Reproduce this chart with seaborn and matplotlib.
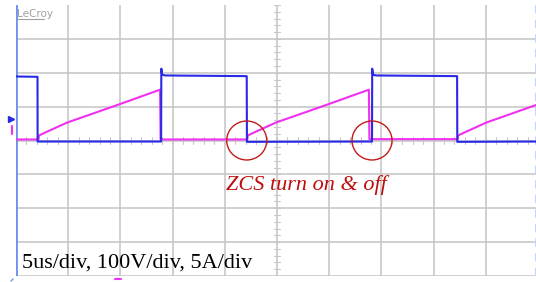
import numpy as np
import pandas as pd
import matplotlib
matplotlib.use("Agg")
import matplotlib.pyplot as plt
import seaborn as sns
from matplotlib.patches import Ellipse
from matplotlib.lines import Line2D

# ---- data ----
# voltage trace (blue), time in us, volts
t_v = [0, 2.06, 2.07, 13.9, 13.92, 14.0, 14.3, 22.1, 22.12, 34.1, 34.12, 34.2, 34.5, 42.25, 42.27, 50.2]
v_v = [189, 188, -3, -3, 212, 194, 192, 190, -4, -3, 212, 194, 192, 190, -4, -3]
# current trace (magenta), time in us, amps
t_i = [0, 2.15, 2.2, 2.8, 4.9, 10.0, 13.8, 13.85, 22.15, 22.2, 22.8, 24.9, 30.0, 33.8, 33.85,
       42.3, 42.35, 42.95, 45.05, 50.2]
i_i = [0.15, 0.15, 0.74, 1.18, 2.65, 5.4, 7.5, 0.15, 0.15, 0.74, 1.18, 2.65, 5.4, 7.5, 0.2,
       0.2, 0.74, 1.18, 2.65, 5.45]
# scales
t_div = 5.0      # us/div
v_div = 100.0    # V/div
i_div = 5.0      # A/div
scale_label = "5us/div, 100V/div, 5A/div"
zcs_label = "ZCS turn on & off"
zcs_times = [22.1, 34.1]

df_v = pd.DataFrame({"t": t_v, "y": np.array(v_v) / v_div})
df_i = pd.DataFrame({"t": t_i, "y": np.array(i_i) / i_div})

sns.set_style("white")
plt.rcParams["font.family"] = ["Liberation Serif", "DejaVu Sans"]

fig = plt.figure(figsize=(5.36, 2.82), dpi=100)
ax = fig.add_axes([16 / 536, 6 / 282, 522 / 536, 271 / 282])
ax.set_xlim(0, 10 * t_div)
ax.set_ylim(-4, 4)

# grid
for k in range(1, 10):
    ax.axvline(k * t_div, color="#c4c4c4", lw=1.1, zorder=0)
for k in range(-4, 4):
    ax.axhline(k, color="#c4c4c4", lw=1.1, zorder=0)
# center minor ticks
for k in np.arange(0, 10.01, 0.2):
    ax.plot([k * t_div, k * t_div], [-0.09, 0.09], color="#c8c8c8", lw=0.8, zorder=0)
for k in np.arange(-4, 4.01, 0.2):
    ax.plot([5 * t_div - 0.3, 5 * t_div + 0.3], [k, k], color="#c8c8c8", lw=0.8, zorder=0)
ax.axvline(0, color="#6b93f0", lw=2.0, zorder=1)
ax.axvline(49.85, color="#c8d6f5", lw=1.5, ls=(0, (4, 3)), zorder=1)

for s in ax.spines.values():
    s.set_visible(False)
ax.set_xticks([])
ax.set_yticks([])

sns.lineplot(data=df_i, x="t", y="y", estimator=None, sort=False, color="#f030f0",
             lw=1.5, ax=ax, zorder=3)
sns.lineplot(data=df_v, x="t", y="y", estimator=None, sort=False, color="#2a2ae6",
             lw=1.5, ax=ax, zorder=4)
ax.set_xlabel("")
ax.set_ylabel("")

# circles
w = 40 / 52.2 * t_div
h = 39 / 33.9
for tc in zcs_times:
    ax.add_patch(Ellipse((tc, 0), w, h, fill=False, ec="#c41a1a", lw=1.0, zorder=5))

ax.text(20.1, -1.45, zcs_label, color="#c00d0d", fontsize=16, style="italic",
        family=["Liberation Serif", "DejaVu Serif"], va="baseline", ha="left")
ax.text(0.55, -3.75, scale_label, color="black", fontsize=16,
        family=["Liberation Serif", "DejaVu Serif"], va="baseline", ha="left")

# LeCroy logo
fig.text(17 / 536, 1 - 17 / 282, "LeCroy", color="#a0a0a0", fontsize=7.5,
         family=["DejaVu Sans"], va="baseline", ha="left")
fig.add_artist(Line2D([17 / 536, 44 / 536], [1 - 19 / 282, 1 - 19 / 282],
                      color="#a0a0a0", lw=0.8))

# channel markers on the left
fig.add_artist(Line2D([11 / 536], [1 - 119 / 282], marker=">", color="#2a2ae6",
                      markersize=4, lw=0))
fig.add_artist(Line2D([12 / 536, 12 / 536], [1 - 126 / 282, 1 - 134 / 282],
                      color="#f030f0", lw=1.5))
fig.add_artist(Line2D([11 / 536, 13 / 536], [1 - 281 / 282, 1 - 279 / 282],
                      color="#6b93f0", lw=1.0))
fig.add_artist(Line2D([115 / 536, 121 / 536], [1 - 279 / 282, 1 - 279 / 282],
                      color="#f030f0", lw=1.5))

fig.savefig("out.png", dpi=100)
